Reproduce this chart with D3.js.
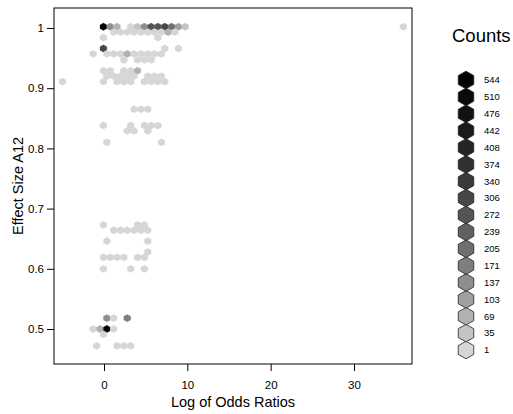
<!DOCTYPE html>
<html><head><meta charset="utf-8">
<script src="https://cdn.jsdelivr.net/npm/d3@7"></script>
<style>body{margin:0;background:#fff} text{font-family:"Liberation Sans",Arial,Helvetica,sans-serif;fill:#000}</style>
</head><body><svg id="c" width="513" height="414"></svg>
<script>
// hexbin cell centres (log odds ratio, A12) and counts
const binX = [
 -0.07,0.75,1.56,3.20,4.02,4.84,5.65,6.47,7.29,8.11,8.93,9.74,35.92,
 1.16,1.97,2.79,3.61,4.43,5.25,6.06,6.88,7.70,8.52,
 -0.07,6.47,
 -0.07,7.29,8.93,
 -1.30,0.34,1.16,1.97,2.79,3.61,4.43,5.25,6.06,6.88,
 2.38,4.02,4.84,5.65,
 -0.07,0.75,2.38,3.20,4.02,
 0.34,1.16,1.97,2.79,3.61,5.25,6.06,6.88,
 -4.98,-0.07,1.56,2.38,3.20,4.84,5.65,6.47,7.29,
 3.61,4.43,5.25,
 -0.07,3.20,4.84,5.65,6.47,
 2.79,3.61,5.25,
 0.34,6.88,
 -0.07,4.02,4.84,
 1.16,1.97,2.79,3.61,4.43,5.25,
 0.34,5.25,
 5.25,
 -0.07,0.75,1.56,2.38,4.02,4.84,
 -0.07,3.20,4.84,
 0.34,1.16,2.79,
 -1.30,-0.48,0.34,1.16,
 -0.07,
 -0.89,1.56,2.38,3.20
];
const binY = [
 1.002,1.002,1.002,1.002,1.002,1.002,1.002,1.002,1.002,1.002,1.002,1.002,1.002,
 0.993,0.993,0.993,0.993,0.993,0.993,0.993,0.993,0.993,0.993,
 0.984,0.984,
 0.966,0.966,0.966,
 0.957,0.957,0.957,0.957,0.957,0.957,0.957,0.957,0.957,0.957,
 0.947,0.947,0.947,0.947,
 0.929,0.929,0.929,0.929,0.929,
 0.920,0.920,0.920,0.920,0.920,0.920,0.920,0.920,
 0.911,0.911,0.911,0.911,0.911,0.911,0.911,0.911,0.911,
 0.865,0.865,0.865,
 0.838,0.838,0.838,0.838,0.838,
 0.829,0.829,0.829,
 0.810,0.810,
 0.673,0.673,0.673,
 0.664,0.664,0.664,0.664,0.664,0.664,
 0.646,0.646,
 0.628,
 0.619,0.619,0.619,0.619,0.619,0.619,
 0.600,0.600,0.600,
 0.518,0.518,0.518,
 0.500,0.500,0.500,0.500,
 0.491,
 0.472,0.472,0.472,0.472
];
const binCount = [
 544,145,80,12,40,145,270,270,320,200,110,45,2,
 8,10,12,9,14,10,18,22,70,12,
 6,5,
 320,4,3,
 3,10,12,9,75,14,11,9,8,6,
 4,5,6,4,
 9,7,8,10,80,
 8,9,10,11,7,6,8,5,
 2,6,7,8,5,6,7,9,4,
 4,5,3,
 3,4,5,4,3,
 3,4,5,
 3,2,
 3,4,5,
 4,5,6,5,7,6,
 3,4,
 3,
 5,4,6,5,4,6,
 3,4,3,
 150,8,175,
 5,75,520,9,
 6,
 3,4,5,4
];
const xTicks = [0, 10, 20, 30];
const yTicks = [0.5, 0.6, 0.7, 0.8, 0.9, 1];
const legendCounts = [1,35,69,103,137,171,205,239,272,306,340,374,408,442,476,510,544];
const grayRamp = ["#d6d6d6","#c4c4c4","#b1b1b1","#9f9f9f","#8e8e8e","#7e7e7e","#6f6f6f","#616161","#545454","#474747","#3b3b3b","#303030","#252525","#1b1b1b","#121212","#0a0a0a","#040404"];
const binWidth = 0.818;   // hexbin cell width in x units
const binRowStep = 0.009136; // vertical distance between hexbin rows in y units

const svg = d3.select("#c");
const L = 54, R = 412, T = 8, B = 364;
const x = d3.scaleLinear().domain([-6.0, 36.96]).range([L, R]);
const y = d3.scaleLinear().domain([0.4419, 1.0332]).range([B, T]);
const color = d3.scaleQuantize().domain([1, 544]).range(grayRamp);

function hexPath(w, h) {
  const p = [[0,-h/2],[w/2,-h/4],[w/2,h/4],[0,h/2],[-w/2,h/4],[-w/2,-h/4]];
  return "M" + p.map(d => d.join(",")).join("L") + "Z";
}
const hw = x(binWidth) - x(0);
const hh = (y(0) - y(binRowStep)) * 4 / 3;
const cells = binX.map((v, i) => ({x: v, y: binY[i], n: binCount[i]}));

svg.append("g").selectAll("path").data(cells).join("path")
  .attr("d", hexPath(hw, hh))
  .attr("transform", d => `translate(${x(d.x)},${y(d.y)})`)
  .attr("fill", d => color(d.n))
  .attr("stroke", d => color(d.n)).attr("stroke-width", 0.3);

// box
svg.append("rect").attr("x", L).attr("y", T).attr("width", R - L).attr("height", B - T)
  .attr("fill", "none").attr("stroke", "#000").attr("stroke-width", 1);

// axes
const xa = svg.append("g").attr("transform", `translate(0,${B})`)
  .call(d3.axisBottom(x).tickValues(xTicks).tickSize(7).tickPadding(10).tickFormat(d3.format("d")));
xa.select(".domain").remove();
xa.selectAll("text").attr("font-size", 11.5).attr("fill", "#000").style("font-family", "Liberation Sans, Arial, sans-serif");
const ya = svg.append("g").attr("transform", `translate(${L},0)`)
  .call(d3.axisLeft(y).tickValues(yTicks).tickSize(7).tickPadding(3).tickFormat(d => d === 1 ? "1" : d3.format(".1f")(d)));
ya.select(".domain").remove();
ya.selectAll("text").attr("font-size", 11.5).attr("fill", "#000").style("font-family", "Liberation Sans, Arial, sans-serif");
svg.selectAll(".tick line").attr("stroke", "#000");

svg.append("text").attr("x", (L + R) / 2).attr("y", 407).attr("text-anchor", "middle")
  .attr("font-size", 14.5).text("Log of Odds Ratios");
svg.append("text").attr("transform", `translate(23,${(T + B) / 2}) rotate(-90)`).attr("text-anchor", "middle")
  .attr("font-size", 14.5).text("Effect Size A12");

// legend
svg.append("text").attr("x", 452).attr("y", 42).attr("font-size", 18.5).text("Counts");
const ly = d3.scalePoint().domain(legendCounts.slice().reverse()).range([80, 350]);
const lg = svg.append("g");
lg.selectAll("path").data(legendCounts).join("path")
  .attr("d", hexPath(15.5, 17.6))
  .attr("transform", d => `translate(466,${ly(d)})`)
  .attr("fill", d => color(d)).attr("stroke", "#222").attr("stroke-width", 0.8);
lg.selectAll("text").data(legendCounts).join("text")
  .attr("x", 484).attr("y", d => ly(d)).attr("dy", "0.35em")
  .attr("font-size", 9.5).text(d => d);
</script></body></html>
